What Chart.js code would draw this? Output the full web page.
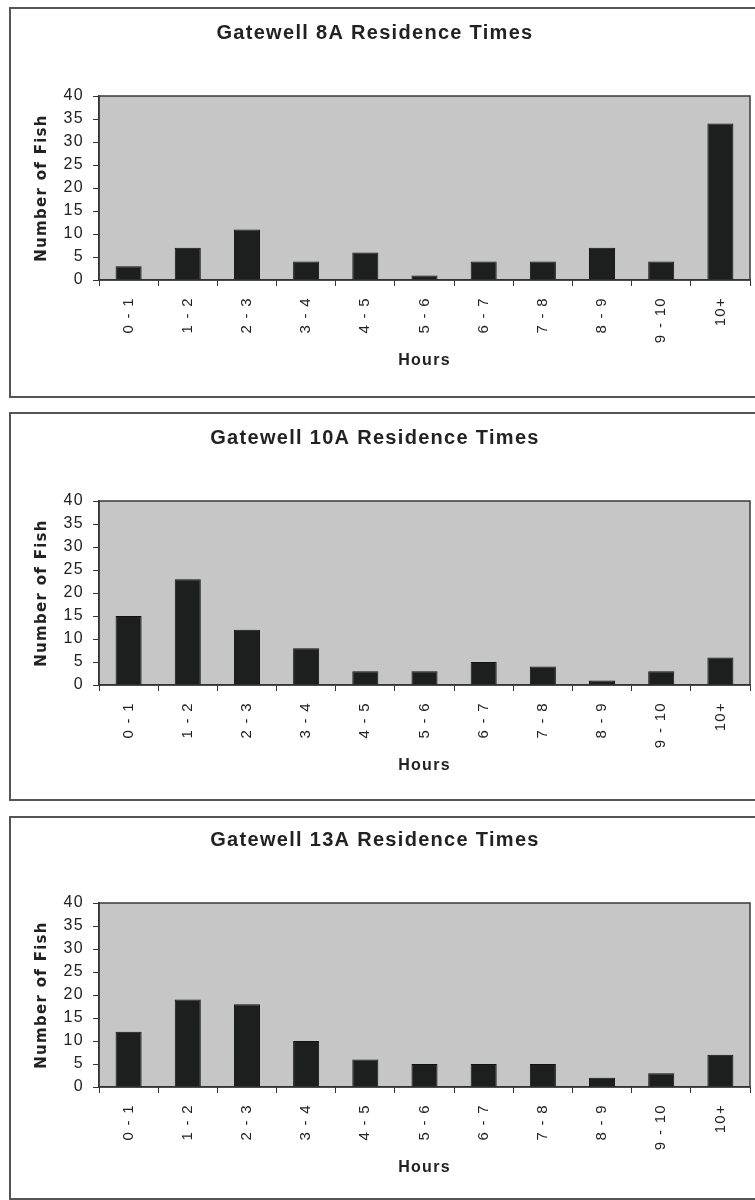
<!DOCTYPE html>
<html>
<head>
<meta charset="utf-8">
<script src="https://cdn.jsdelivr.net/npm/chart.js@4.4.1/dist/chart.umd.min.js"></script>
<style>
html, body { margin: 0; padding: 0; background: #fff; overflow: hidden; width: 755px; height: 1200px; position: relative; }
.frame { position: absolute; left: 9px; width: 800px; border: 2px solid #555; box-sizing: border-box; }
canvas { position: absolute; left: 0; }
</style>
</head>
<body>
<div class="frame" style="top:7px;height:391px"></div>
<div class="frame" style="top:412px;height:389px"></div>
<div class="frame" style="top:816px;height:384px"></div>
<canvas id="chart8A" width="770" height="390" style="top:7px"></canvas>
<canvas id="chart10A" width="770" height="390" style="top:412px"></canvas>
<canvas id="chart13A" width="770" height="390" style="top:814px"></canvas>
<script>
// hour bins on the x axis
const hourBins = ['0 - 1', '1 - 2', '2 - 3', '3 - 4', '4 - 5', '5 - 6', '6 - 7', '7 - 8', '8 - 9', '9 - 10', '10+'];

// number of fish per bin
const gatewell8A = [3, 7, 11, 4, 6, 1, 4, 4, 7, 4, 34];
const gatewell10A = [15, 23, 12, 8, 3, 3, 5, 4, 1, 3, 6];
const gatewell13A = [12, 19, 18, 10, 6, 5, 5, 5, 2, 3, 7];

// y axis ticks
const yMin = 0;
const yMax = 40;
const yStep = 5;

// the scanned charts use spaced-out lettering
const letterSpacing = {
    id: 'letterSpacing',
    beforeUpdate(chart) { chart.ctx.letterSpacing = '1.3px'; },
    beforeLayout(chart) { chart.ctx.letterSpacing = '1.3px'; },
    beforeDraw(chart) { chart.ctx.letterSpacing = '1.3px'; }
};

// grey plot area with a dark outline
const plotArea = {
    id: 'plotArea',
    beforeDraw(chart) {
        const { ctx, chartArea: a } = chart;
        ctx.save();
        ctx.fillStyle = '#c6c6c6';
        ctx.fillRect(a.left, a.top, a.width, a.height);
        ctx.strokeStyle = '#3a3a3a';
        ctx.lineWidth = 1.5;
        ctx.strokeRect(a.left, a.top, a.width, a.height);
        ctx.restore();
    }
};

function makeChart(id, title, values) {
    const ctx = document.getElementById(id).getContext('2d');
    return new Chart(ctx, {
        type: 'bar',
        data: {
            labels: hourBins,
            datasets: [{
                data: values,
                backgroundColor: '#1c1f1e',
                borderColor: '#111',
                borderWidth: 1,
                categoryPercentage: 1,
                barPercentage: 0.44
            }]
        },
        options: {
            responsive: false,
            animation: false,
            devicePixelRatio: 1,
            layout: { padding: { left: 0, right: 20, top: 0, bottom: 0 } },
            plugins: {
                legend: { display: false },
                tooltip: { enabled: false },
                title: {
                    display: true,
                    text: title,
                    color: '#222',
                    font: { family: '"Liberation Sans", Arial, sans-serif', size: 20, weight: 'bold' },
                    padding: { top: 14, bottom: 51 }
                }
            },
            scales: {
                x: {
                    afterFit: (s) => { s.height = 117; },
                    grid: { drawOnChartArea: false, drawTicks: true, tickLength: 6, color: '#333', lineWidth: 1 },
                    border: { display: true, color: '#333', width: 1.5 },
                    ticks: {
                        minRotation: 90,
                        maxRotation: 90,
                        autoSkip: false,
                        padding: 11,
                        color: '#222',
                        font: { family: '"Liberation Sans", Arial, sans-serif', size: 15 }
                    },
                    title: {
                        display: true,
                        text: 'Hours',
                        color: '#222',
                        font: { family: '"Liberation Sans", Arial, sans-serif', size: 16, weight: 'bold' },
                        padding: { top: 0, bottom: 27 }
                    }
                },
                y: {
                    min: yMin,
                    max: yMax,
                    afterFit: (s) => { s.width = 99; },
                    grid: { drawOnChartArea: false, drawTicks: true, tickLength: 6, color: '#333', lineWidth: 1 },
                    border: { display: true, color: '#333', width: 1.5 },
                    ticks: {
                        stepSize: yStep,
                        padding: 9,
                        color: '#222',
                        font: { family: '"Liberation Sans", Arial, sans-serif', size: 16 }
                    },
                    title: {
                        display: true,
                        text: 'Number of Fish',
                        color: '#222',
                        font: { family: '"DejaVu Sans", sans-serif', size: 15, weight: 'bold' },
                        padding: { top: 33, bottom: 0 }
                    }
                }
            }
        },
        plugins: [letterSpacing, plotArea]
    });
}

makeChart('chart8A', 'Gatewell 8A Residence Times', gatewell8A);
makeChart('chart10A', 'Gatewell 10A Residence Times', gatewell10A);
makeChart('chart13A', 'Gatewell 13A Residence Times', gatewell13A);
</script>
</body>
</html>
